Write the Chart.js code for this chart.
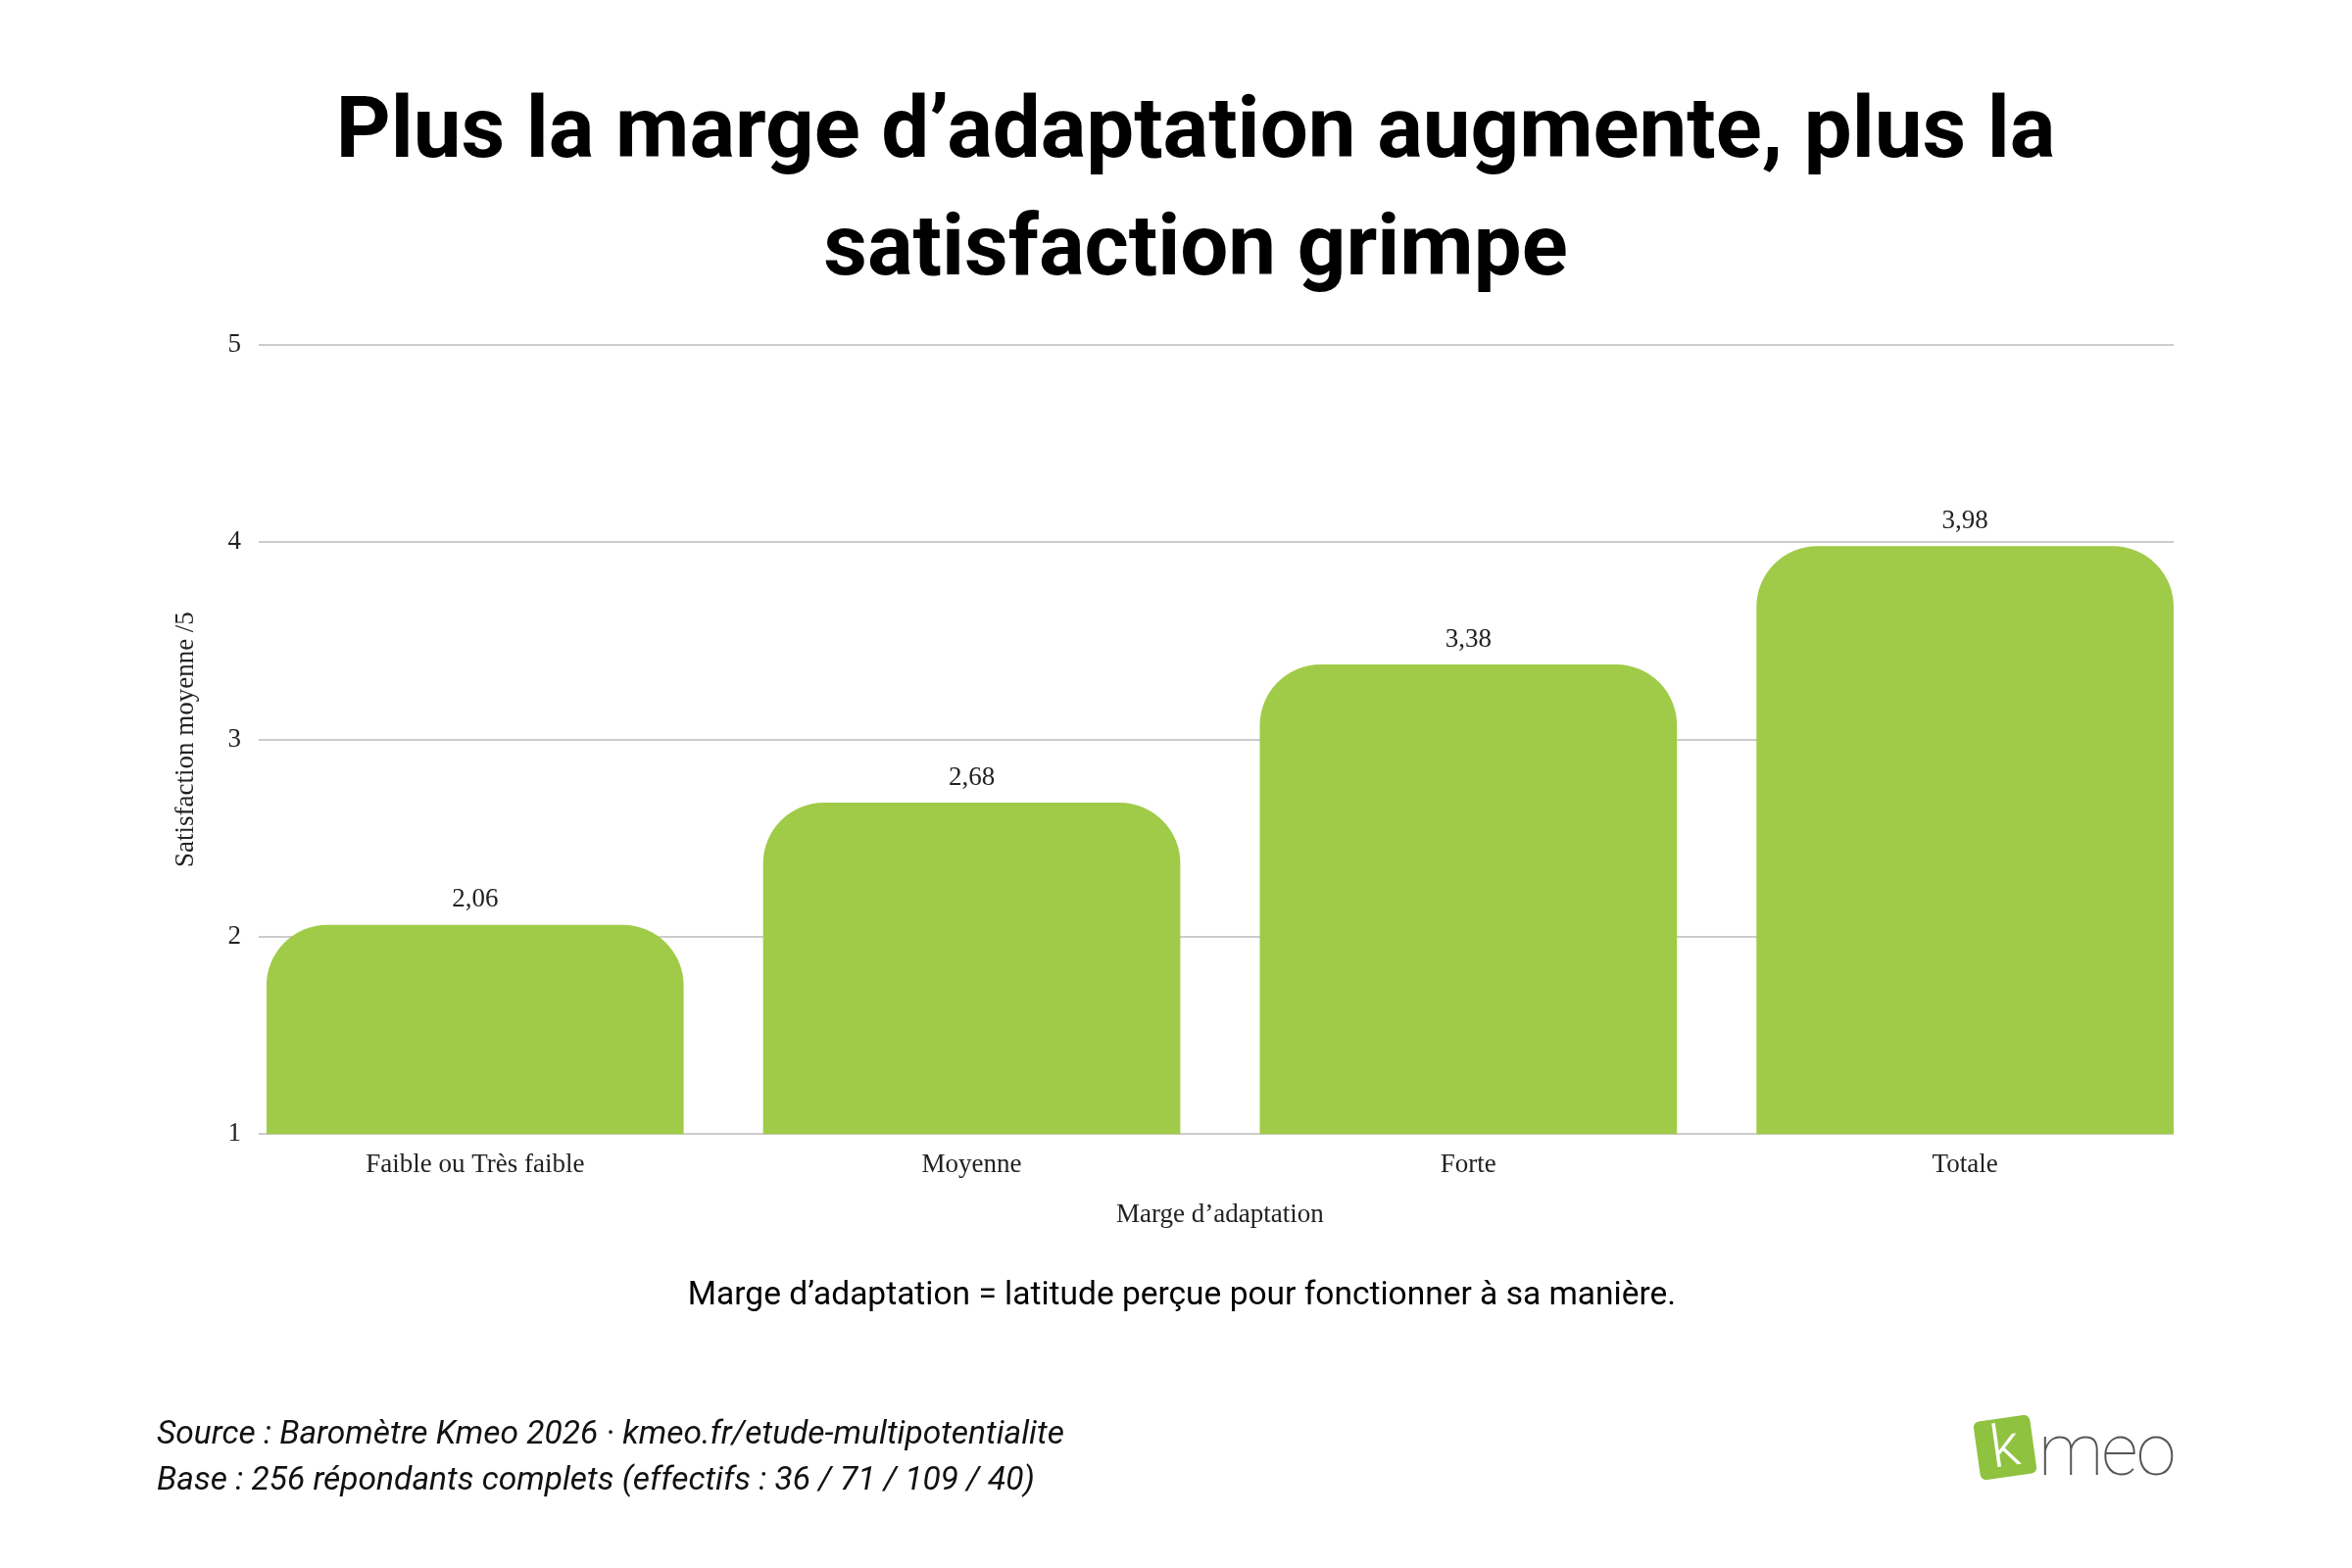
<!DOCTYPE html>
<html><head><meta charset="utf-8">
<script src="https://cdn.jsdelivr.net/npm/chart.js@4"></script>
<style>
body{margin:0;width:2400px;height:1600px;background:#fff;position:relative;overflow:hidden;font-family:Roboto,sans-serif}
#wrap{position:absolute;left:0;top:0;width:2400px;height:1600px}
.t{position:absolute;color:#000}
#title{left:0;width:2440px;top:70px;text-align:center;font-weight:700;font-size:87px;line-height:120px}
#note{left:0;width:2412px;top:1300px;text-align:center;font-size:33.5px}
#src{left:160px;top:1438px;font-style:italic;font-size:33.5px;line-height:47px;color:#111}
#logo{position:absolute;left:2017px;top:1447px;width:58px;height:60px;background:#8fc23f;transform:rotate(-8deg);border-radius:6px;color:#fff;font-size:60px;line-height:58px;text-align:center;font-weight:300}
#meo{position:absolute;left:2080px;top:1436px;font-size:74px;font-weight:100;color:#555;letter-spacing:-2px}
</style></head><body>
<div id="wrap"><canvas id="c" width="2400" height="1600"></canvas></div>
<div class="t" id="title">Plus la marge d’adaptation augmente, plus la<br>satisfaction grimpe</div>
<div class="t" id="note">Marge d’adaptation = latitude perçue pour fonctionner à sa manière.</div>
<div class="t" id="src">Source : Baromètre Kmeo 2026 · kmeo.fr/etude-multipotentialite<br>Base : 256 répondants complets (effectifs : 36 / 71 / 109 / 40)</div>
<div id="logo">k</div><div id="meo">meo</div>
<script>
const categories = ['Faible ou Très faible', 'Moyenne', 'Forte', 'Totale'];
const values = [2.06, 2.68, 3.38, 3.98];
const yTicks = [1, 2, 3, 4, 5];

const axisFont = {family: '"Liberation Serif", serif', size: 27};
const barShare = 0.84;
const half = barShare / 2;

const valueLabels = {
  id: 'valueLabels',
  afterDatasetsDraw(chart) {
    const ctx = chart.ctx;
    const meta = chart.getDatasetMeta(0);
    ctx.save();
    ctx.font = '27px "Liberation Serif", serif';
    ctx.fillStyle = '#222';
    ctx.textAlign = 'center';
    ctx.textBaseline = 'bottom';
    meta.data.forEach((bar, i) => {
      ctx.fillText(values[i].toFixed(2).replace('.', ','), bar.x, bar.y - 12);
    });
    ctx.restore();
  }
};

new Chart(document.getElementById('c'), {
  type: 'bar',
  data: {
    datasets: [{
      data: values.map((v, i) => ({x: i, y: v})),
      backgroundColor: '#a0cb48',
      borderRadius: {topLeft: 62, topRight: 62},
      borderSkipped: 'bottom',
      barPercentage: barShare,
      categoryPercentage: 1
    }]
  },
  options: {
    responsive: false,
    animation: false,
    devicePixelRatio: 1,
    layout: {padding: {left: 166, right: 182, top: 352, bottom: 334}},
    plugins: {legend: {display: false}, tooltip: {enabled: false}},
    scales: {
      y: {
        min: 1, max: 5,
        afterBuildTicks: (axis) => { axis.ticks = yTicks.map(v => ({value: v})); },
        grid: {color: '#cccccc', lineWidth: 2},
        border: {display: false},
        ticks: {font: axisFont, color: '#222', padding: 18},
        title: {display: true, text: 'Satisfaction moyenne /5', font: axisFont, color: '#222', padding: 8}
      },
      x: {
        type: 'linear',
        offset: false,
        min: -half, max: categories.length - 1 + half,
        afterBuildTicks: (axis) => { axis.ticks = categories.map((c, i) => ({value: i})); },
        grid: {display: false},
        border: {display: false},
        ticks: {font: axisFont, color: '#222', padding: 8, callback: (v) => categories[v]},
        title: {display: true, text: 'Marge d’adaptation', font: axisFont, color: '#222', padding: 10}
      }
    }
  },
  plugins: [valueLabels]
});
</script>
</body></html>
